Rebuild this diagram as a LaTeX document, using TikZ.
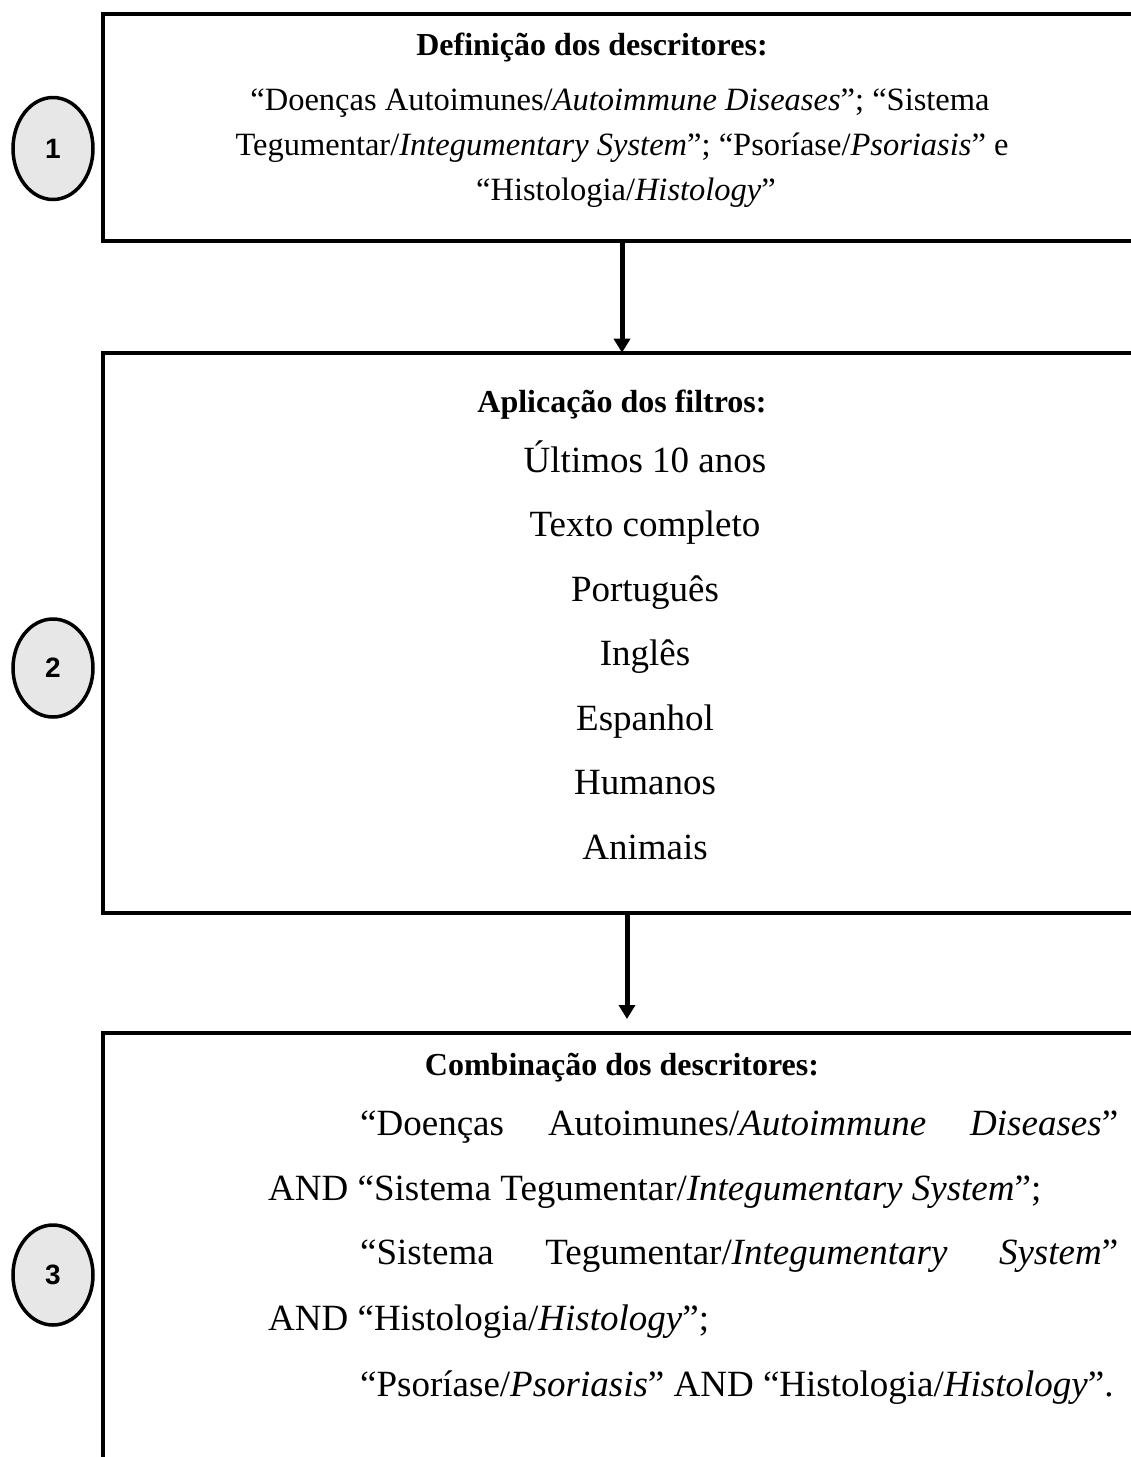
\documentclass[tikz,border=0pt]{standalone}
\usepackage{fontspec}
\setmainfont{Liberation Serif}
\newfontfamily\numfont{Liberation Sans}
\usetikzlibrary{arrows.meta,shapes.geometric}
\definecolor{numfill}{HTML}{E7E7E7}
\begin{document}
\begin{tikzpicture}[x=1pt,y=-1pt,
  frame/.style={draw, line width=4pt, outer sep=0pt, inner sep=0pt, anchor=north west},
  stepnum/.style={ellipse, draw, line width=3.5pt, fill=numfill, minimum width=80pt, minimum height=102pt, inner sep=0pt, font=\numfont\bfseries\fontsize{28}{30}\selectfont},
  head/.style={inner sep=0pt, anchor=base, font=\bfseries\fontsize{32}{36}\selectfont},
  small/.style={inner sep=0pt, anchor=base, font=\fontsize{32.5}{36}\selectfont},
  big/.style={inner sep=0pt, anchor=base, font=\fontsize{37}{42}\selectfont},
  bigl/.style={inner sep=0pt, anchor=base west, font=\fontsize{37}{42}\selectfont},
  flow/.style={line width=5pt, -{Triangle[width=16pt,length=14pt]}}]
\useasboundingbox (0,0) rectangle (1131,1457);
\clip (0,0) rectangle (1131,1457);

% boxes
\node[frame, minimum width=1060pt, minimum height=227pt] (b1) at (103,14) {};
\node[frame, minimum width=1060pt, minimum height=560pt] (b2) at (103,352.7) {};
\node[frame, minimum width=1060pt, minimum height=480pt] (b3) at (103,1033) {};

% step numbers
\node[stepnum] (n1) at (53,148.5) {1};
\node[stepnum, minimum height=98pt] (n2) at (53,668) {2};
\node[stepnum, minimum height=100pt] (n3) at (53,1275) {3};

% arrows
\coordinate (a1) at (622,0);
\coordinate (a2) at (627,0);
\coordinate (t2) at (627,1019);
\draw[flow] (b1.south -| a1) -- (b2.north -| a1);
\draw[flow] (b2.south -| a2) -- (t2);

% box 1 text
\node[head] (h1) at (592,55) {Definição dos descritores:};
\node[small] (l11) at (620,110) {“Doenças Autoimunes/\textit{Autoimmune Diseases}”; “Sistema};
\node[small] (l12) at (622,155) {Tegumentar/\textit{Integumentary System}”; “Psoríase/\textit{Psoriasis}” e};
\node[small] (l13) at (626,200) {“Histologia/\textit{Histology}”};

% box 2 text
\node[head] (h2) at (622,412) {Aplicação dos filtros:};
\node[big] (f1) at (645,472) {Últimos 10 anos};
\node[big] (f2) at (645,536.5) {Texto completo};
\node[big] (f3) at (645,601) {Português};
\node[big] (f4) at (645,665.5) {Inglês};
\node[big] (f5) at (645,730) {Espanhol};
\node[big] (f6) at (645,794.5) {Humanos};
\node[big] (f7) at (645,859) {Animais};

% box 3 text
\node[head] (h3) at (622,1075) {Combinação dos descritores:};
\node[bigl] (c1) at (360,1135) {\hbox to 758pt{“Doenças\hfill Autoimunes/\textit{Autoimmune}\hfill\textit{Diseases}”}};
\node[bigl] (c2) at (268,1200) {AND “Sistema Tegumentar/\textit{Integumentary System}”;};
\node[bigl] (c3) at (360,1264) {\hbox to 758pt{“Sistema\hfill Tegumentar/\textit{Integumentary}\hfill\textit{System}”}};
\node[bigl] (c4) at (268,1330) {AND “Histologia/\textit{Histology}”;};
\node[bigl] (c5) at (360,1396) {“Psoríase/\textit{Psoriasis}” AND “Histologia/\textit{Histology}”.};
\end{tikzpicture}
\end{document}
